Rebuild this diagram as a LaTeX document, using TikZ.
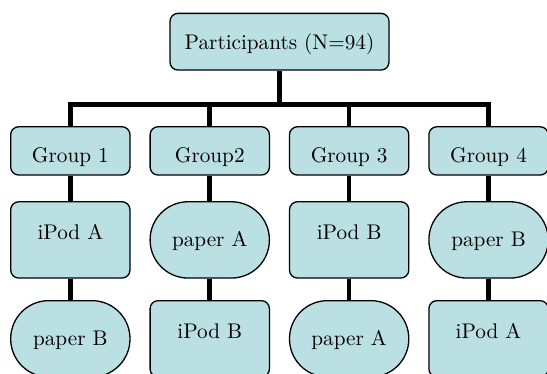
\documentclass[tikz,border=0pt]{standalone}
\usepackage{fontspec}
\setmainfont{lmroman10-regular.otf}
\definecolor{boxfill}{RGB}{186,224,227}
\begin{document}
\begin{tikzpicture}[x=1pt,y=-1pt,
  base/.style={draw=black, line width=1.3pt, fill=boxfill, minimum width=119.3pt, inner sep=0pt,
    font=\fontsize{21.2}{25}\selectfont, rounded corners=8pt},
  topbox/.style={base, minimum width=219pt, minimum height=56.7pt, text height=16pt, text depth=1.4pt},
  grpbox/.style={base, minimum height=48.3pt, text height=24pt, text depth=0.2pt},
  rectbox/.style={base, minimum height=76.3pt, text height=8pt, text depth=9.2pt},
  stadbox/.style={base, minimum height=76.3pt, rounded corners=38pt, text height=14pt, text depth=0.4pt},
  link/.style={line width=4.6pt, line join=miter}
]
\useasboundingbox (0,0) rectangle (547,373);

\node[topbox] (top) at (279.5,41.7) {Participants (N=94)};

\node[grpbox] (g1) at (70.35,150.9) {Group 1};
\node[grpbox] (g2) at (209.75,150.9) {Group2};
\node[grpbox] (g3) at (349.15,150.9) {Group 3};
\node[grpbox] (g4) at (488.55,150.9) {Group 4};

\node[rectbox] (a1) at (70.35,239.9) {iPod A};
\node[stadbox] (a2) at (209.75,239.9) {paper A};
\node[rectbox] (a3) at (349.15,239.9) {iPod B};
\node[stadbox] (a4) at (488.55,239.9) {paper B};

\node[stadbox] (b1) at (70.35,338.8) {paper B};
\node[rectbox] (b2) at (209.75,338.8) {iPod B};
\node[stadbox] (b3) at (349.15,338.8) {paper A};
\node[rectbox] (b4) at (488.55,338.8) {iPod A};

\coordinate (bus) at (279.5,104.5);
\draw[link] (top) -- (bus);
\draw[link] (g1.north) |- (bus);
\draw[link] (g2.north) |- (bus);
\draw[link] (g3.north) |- (bus);
\draw[link] (g4.north) |- (bus);

\draw[link] (g1) -- (a1);
\draw[link] (g2) -- (a2);
\draw[link] (g3) -- (a3);
\draw[link] (g4) -- (a4);
\draw[link] (a1) -- (b1);
\draw[link] (a2) -- (b2);
\draw[link] (a3) -- (b3);
\draw[link] (a4) -- (b4);
\end{tikzpicture}
\end{document}
